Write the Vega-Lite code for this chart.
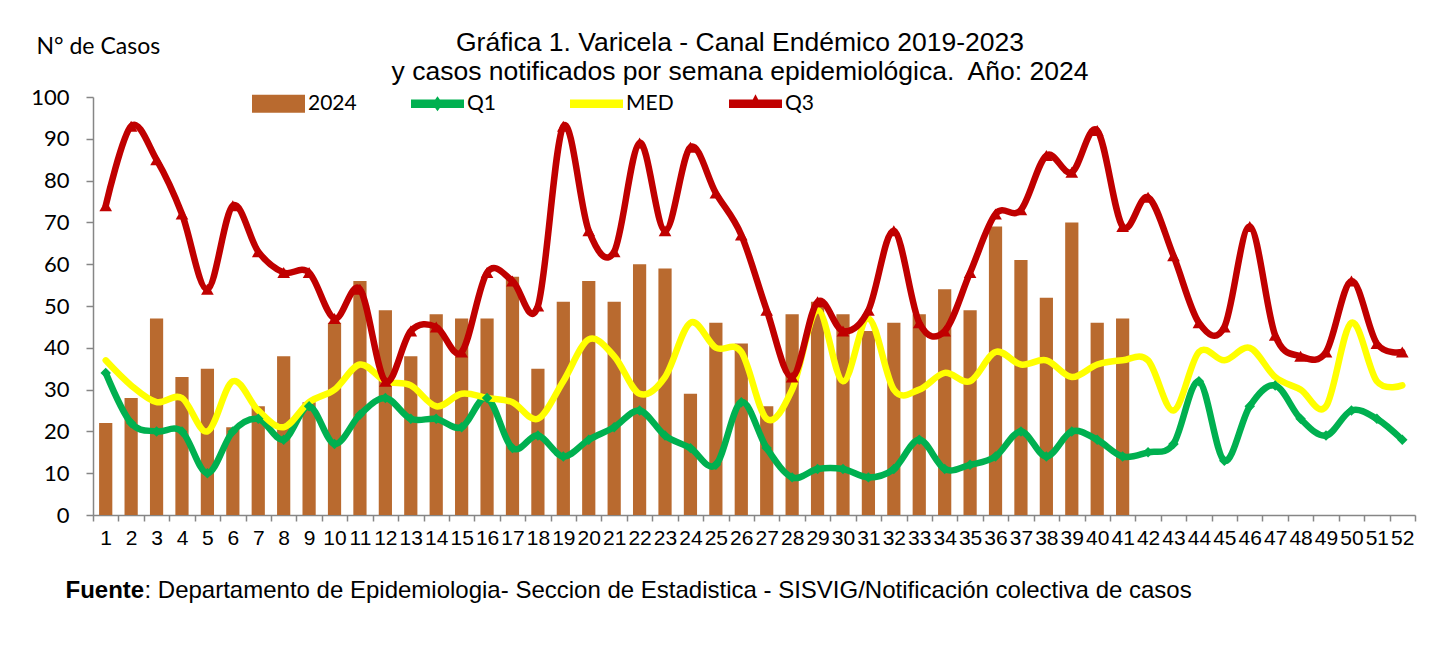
{
"$schema": "https://vega.github.io/schema/vega-lite/v6.json",
"autosize": "none",
"width": 1322,
"height": 418,
"padding": {"left": 93, "top": 97, "right": 27, "bottom": 152},
"background": "white",
"config": {"view": {"stroke": null}, "font": "Liberation Sans", "axis": {"grid": false}},
"title": {"text": ["Gráfica 1. Varicela - Canal Endémico 2019-2023", "y casos notificados por semana epidemiológica.\u00a0 Año: 2024"], "anchor": "middle", "frame": "group", "fontSize": 26.5, "fontWeight": "normal", "font": "Liberation Sans", "color": "black", "lineHeight": 29, "dx": -14, "offset": -50},
"datasets": {"d": [
{"semana":1,"serie":"2024","valor":22},{"semana":2,"serie":"2024","valor":28},{"semana":3,"serie":"2024","valor":47},{"semana":4,"serie":"2024","valor":33},{"semana":5,"serie":"2024","valor":35},{"semana":6,"serie":"2024","valor":21},{"semana":7,"serie":"2024","valor":26},{"semana":8,"serie":"2024","valor":38},{"semana":9,"serie":"2024","valor":27},{"semana":10,"serie":"2024","valor":46},{"semana":11,"serie":"2024","valor":56},{"semana":12,"serie":"2024","valor":49},{"semana":13,"serie":"2024","valor":38},{"semana":14,"serie":"2024","valor":48},{"semana":15,"serie":"2024","valor":47},{"semana":16,"serie":"2024","valor":47},{"semana":17,"serie":"2024","valor":57},{"semana":18,"serie":"2024","valor":35},{"semana":19,"serie":"2024","valor":51},{"semana":20,"serie":"2024","valor":56},{"semana":21,"serie":"2024","valor":51},{"semana":22,"serie":"2024","valor":60},{"semana":23,"serie":"2024","valor":59},{"semana":24,"serie":"2024","valor":29},{"semana":25,"serie":"2024","valor":46},{"semana":26,"serie":"2024","valor":41},{"semana":27,"serie":"2024","valor":26},{"semana":28,"serie":"2024","valor":48},{"semana":29,"serie":"2024","valor":51},{"semana":30,"serie":"2024","valor":48},{"semana":31,"serie":"2024","valor":44},{"semana":32,"serie":"2024","valor":46},{"semana":33,"serie":"2024","valor":48},{"semana":34,"serie":"2024","valor":54},{"semana":35,"serie":"2024","valor":49},{"semana":36,"serie":"2024","valor":69},{"semana":37,"serie":"2024","valor":61},{"semana":38,"serie":"2024","valor":52},{"semana":39,"serie":"2024","valor":70},{"semana":40,"serie":"2024","valor":46},{"semana":41,"serie":"2024","valor":47},
{"semana":1,"serie":"Q1","valor":34},{"semana":2,"serie":"Q1","valor":22},{"semana":3,"serie":"Q1","valor":20},{"semana":4,"serie":"Q1","valor":20},{"semana":5,"serie":"Q1","valor":10},{"semana":6,"serie":"Q1","valor":20},{"semana":7,"serie":"Q1","valor":23},{"semana":8,"serie":"Q1","valor":18},{"semana":9,"serie":"Q1","valor":26},{"semana":10,"serie":"Q1","valor":17},{"semana":11,"serie":"Q1","valor":24},{"semana":12,"serie":"Q1","valor":28},{"semana":13,"serie":"Q1","valor":23},{"semana":14,"serie":"Q1","valor":23},{"semana":15,"serie":"Q1","valor":21},{"semana":16,"serie":"Q1","valor":28},{"semana":17,"serie":"Q1","valor":16},{"semana":18,"serie":"Q1","valor":19},{"semana":19,"serie":"Q1","valor":14},{"semana":20,"serie":"Q1","valor":18},{"semana":21,"serie":"Q1","valor":21},{"semana":22,"serie":"Q1","valor":25},{"semana":23,"serie":"Q1","valor":19},{"semana":24,"serie":"Q1","valor":16},{"semana":25,"serie":"Q1","valor":12},{"semana":26,"serie":"Q1","valor":27},{"semana":27,"serie":"Q1","valor":16},{"semana":28,"serie":"Q1","valor":9},{"semana":29,"serie":"Q1","valor":11},{"semana":30,"serie":"Q1","valor":11},{"semana":31,"serie":"Q1","valor":9},{"semana":32,"serie":"Q1","valor":11},{"semana":33,"serie":"Q1","valor":18},{"semana":34,"serie":"Q1","valor":11},{"semana":35,"serie":"Q1","valor":12},{"semana":36,"serie":"Q1","valor":14},{"semana":37,"serie":"Q1","valor":20},{"semana":38,"serie":"Q1","valor":14},{"semana":39,"serie":"Q1","valor":20},{"semana":40,"serie":"Q1","valor":18},{"semana":41,"serie":"Q1","valor":14},{"semana":42,"serie":"Q1","valor":15},{"semana":43,"serie":"Q1","valor":17},{"semana":44,"serie":"Q1","valor":32},{"semana":45,"serie":"Q1","valor":13},{"semana":46,"serie":"Q1","valor":26},{"semana":47,"serie":"Q1","valor":31},{"semana":48,"serie":"Q1","valor":23},{"semana":49,"serie":"Q1","valor":19},{"semana":50,"serie":"Q1","valor":25},{"semana":51,"serie":"Q1","valor":23},{"semana":52,"serie":"Q1","valor":18},
{"semana":1,"serie":"MED","valor":37},{"semana":2,"serie":"MED","valor":31},{"semana":3,"serie":"MED","valor":27},{"semana":4,"serie":"MED","valor":28},{"semana":5,"serie":"MED","valor":20},{"semana":6,"serie":"MED","valor":32},{"semana":7,"serie":"MED","valor":25},{"semana":8,"serie":"MED","valor":21},{"semana":9,"serie":"MED","valor":27},{"semana":10,"serie":"MED","valor":30},{"semana":11,"serie":"MED","valor":36},{"semana":12,"serie":"MED","valor":32},{"semana":13,"serie":"MED","valor":31},{"semana":14,"serie":"MED","valor":26},{"semana":15,"serie":"MED","valor":29},{"semana":16,"serie":"MED","valor":28},{"semana":17,"serie":"MED","valor":27},{"semana":18,"serie":"MED","valor":23},{"semana":19,"serie":"MED","valor":32},{"semana":20,"serie":"MED","valor":42},{"semana":21,"serie":"MED","valor":38},{"semana":22,"serie":"MED","valor":29},{"semana":23,"serie":"MED","valor":33},{"semana":24,"serie":"MED","valor":46},{"semana":25,"serie":"MED","valor":40},{"semana":26,"serie":"MED","valor":39},{"semana":27,"serie":"MED","valor":23},{"semana":28,"serie":"MED","valor":30},{"semana":29,"serie":"MED","valor":49},{"semana":30,"serie":"MED","valor":32},{"semana":31,"serie":"MED","valor":47},{"semana":32,"serie":"MED","valor":30},{"semana":33,"serie":"MED","valor":30},{"semana":34,"serie":"MED","valor":34},{"semana":35,"serie":"MED","valor":32},{"semana":36,"serie":"MED","valor":39},{"semana":37,"serie":"MED","valor":36},{"semana":38,"serie":"MED","valor":37},{"semana":39,"serie":"MED","valor":33},{"semana":40,"serie":"MED","valor":36},{"semana":41,"serie":"MED","valor":37},{"semana":42,"serie":"MED","valor":37},{"semana":43,"serie":"MED","valor":25},{"semana":44,"serie":"MED","valor":39},{"semana":45,"serie":"MED","valor":37},{"semana":46,"serie":"MED","valor":40},{"semana":47,"serie":"MED","valor":33},{"semana":48,"serie":"MED","valor":30},{"semana":49,"serie":"MED","valor":26},{"semana":50,"serie":"MED","valor":46},{"semana":51,"serie":"MED","valor":32},{"semana":52,"serie":"MED","valor":31},
{"semana":1,"serie":"Q3","valor":74},{"semana":2,"serie":"Q3","valor":93},{"semana":3,"serie":"Q3","valor":85},{"semana":4,"serie":"Q3","valor":72},{"semana":5,"serie":"Q3","valor":54},{"semana":6,"serie":"Q3","valor":74},{"semana":7,"serie":"Q3","valor":63},{"semana":8,"serie":"Q3","valor":58},{"semana":9,"serie":"Q3","valor":58},{"semana":10,"serie":"Q3","valor":47},{"semana":11,"serie":"Q3","valor":54},{"semana":12,"serie":"Q3","valor":32},{"semana":13,"serie":"Q3","valor":44},{"semana":14,"serie":"Q3","valor":45},{"semana":15,"serie":"Q3","valor":39},{"semana":16,"serie":"Q3","valor":58},{"semana":17,"serie":"Q3","valor":56},{"semana":18,"serie":"Q3","valor":50},{"semana":19,"serie":"Q3","valor":93},{"semana":20,"serie":"Q3","valor":68},{"semana":21,"serie":"Q3","valor":63},{"semana":22,"serie":"Q3","valor":89},{"semana":23,"serie":"Q3","valor":68},{"semana":24,"serie":"Q3","valor":88},{"semana":25,"serie":"Q3","valor":77},{"semana":26,"serie":"Q3","valor":67},{"semana":27,"serie":"Q3","valor":49},{"semana":28,"serie":"Q3","valor":33},{"semana":29,"serie":"Q3","valor":51},{"semana":30,"serie":"Q3","valor":44},{"semana":31,"serie":"Q3","valor":49},{"semana":32,"serie":"Q3","valor":68},{"semana":33,"serie":"Q3","valor":46},{"semana":34,"serie":"Q3","valor":44},{"semana":35,"serie":"Q3","valor":58},{"semana":36,"serie":"Q3","valor":72},{"semana":37,"serie":"Q3","valor":73},{"semana":38,"serie":"Q3","valor":86},{"semana":39,"serie":"Q3","valor":82},{"semana":40,"serie":"Q3","valor":92},{"semana":41,"serie":"Q3","valor":69},{"semana":42,"serie":"Q3","valor":76},{"semana":43,"serie":"Q3","valor":62},{"semana":44,"serie":"Q3","valor":46},{"semana":45,"serie":"Q3","valor":45},{"semana":46,"serie":"Q3","valor":69},{"semana":47,"serie":"Q3","valor":43},{"semana":48,"serie":"Q3","valor":38},{"semana":49,"serie":"Q3","valor":39},{"semana":50,"serie":"Q3","valor":56},{"semana":51,"serie":"Q3","valor":41},{"semana":52,"serie":"Q3","valor":39}
]},
"data": {"name": "d"},
"layer": [
{
"encoding": {
"x": {"field": "semana", "type": "ordinal", "sort": null,
"scale": {"domain": [1,2,3,4,5,6,7,8,9,10,11,12,13,14,15,16,17,18,19,20,21,22,23,24,25,26,27,28,29,30,31,32,33,34,35,36,37,38,39,40,41,42,43,44,45,46,47,48,49,50,51,52], "paddingInner": 0, "paddingOuter": 0},
"axis": {"title": "Fuente", "titleFontWeight": "bold", "titleFont": "Liberation Sans", "titleFontSize": 24, "titleColor": "black", "titleX": -28, "titleY": 82, "titleAlign": "left", "titleBaseline": "alphabetic", "titleAnchor": "start", "labelAngle": 0, "labelFont": "Liberation Sans", "labelFontSize": 21, "labelColor": "black", "labelPadding": 6, "labelOverlap": false, "labelBound": false, "tickBand": "extent", "tickSize": 6, "tickColor": "#868686", "tickWidth": 1.5, "domainColor": "#868686", "domainWidth": 1.5}},
"y": {"field": "valor", "type": "quantitative", "scale": {"domain": [0, 100], "nice": false},
"axis": {"title": "N° de Casos", "titleAngle": 0, "titleAlign": "left", "titleBaseline": "alphabetic", "titleAnchor": "start", "titleX": -57, "titleY": -44, "titleFont": "Lato", "titleFontSize": 23, "titleFontWeight": "normal", "titleColor": "black", "values": [0,10,20,30,40,50,60,70,80,90,100], "labelFont": "Lato", "labelFontSize": 22, "labelColor": "black", "labelPadding": 17, "tickSize": 7, "tickColor": "#868686", "tickWidth": 1.5, "domainColor": "#868686", "domainWidth": 1.5, "grid": false}}
},
"layer": [
{"transform": [{"filter": "datum.serie === '2024'"}],
"mark": {"type": "bar", "width": {"band": 0.52}},
"encoding": {"color": {"field": "serie", "type": "nominal",
"scale": {"domain": ["2024", "Q1", "MED", "Q3"], "range": ["#B96A2F", "#00B050", "#FFFF00", "#C00000"]},
"legend": {"orient": "none", "legendX": 159, "legendY": -20, "direction": "horizontal", "columns": 4, "gridAlign": "all", "columnPadding": 54, "title": null, "symbolSize": 2809, "labelFont": "Lato", "labelFontSize": 21, "labelColor": "black", "labelOffset": 3, "padding": 0,
"encode": {"symbols": {"update": {
"shape": {"signal": "datum.value === '2024' ? 'M-1,-0.34H1V0.34H-1Z' : datum.value === 'Q1' ? 'M-1,-0.16H1V0.16H-1Z M0,-0.28L0.2,0L0,0.28L-0.2,0Z' : datum.value === 'MED' ? 'M-1,-0.16H1V0.16H-1Z' : 'M-1,-0.16H1V0.16H-1Z M0,-0.36L0.25,0.12L-0.25,0.12Z'"},
"fill": {"signal": "datum.value === '2024' ? '#B96A2F' : datum.value === 'Q1' ? '#00B050' : datum.value === 'MED' ? '#FFFF00' : '#C00000'"},
"stroke": {"value": "transparent"},
"strokeWidth": {"value": 0},
"opacity": {"value": 1}
}}}}}}},
{"transform": [{"filter": "datum.serie === 'Q1'"}],
"mark": {"type": "line", "interpolate": "cardinal", "strokeWidth": 6.5, "strokeCap": "round", "strokeJoin": "round"},
"encoding": {"color": {"field": "serie", "type": "nominal"}}},
{"transform": [{"filter": "datum.serie === 'MED'"}],
"mark": {"type": "line", "interpolate": "cardinal", "strokeWidth": 6.5, "strokeCap": "round", "strokeJoin": "round"},
"encoding": {"color": {"field": "serie", "type": "nominal"}}},
{"transform": [{"filter": "datum.serie === 'Q3'"}],
"mark": {"type": "line", "interpolate": "cardinal", "strokeWidth": 6.5, "strokeCap": "round", "strokeJoin": "round"},
"encoding": {"color": {"field": "serie", "type": "nominal"}}},
{"transform": [{"filter": "datum.serie === 'Q1'"}],
"mark": {"type": "point", "shape": "diamond", "filled": true, "size": 110, "color": "#00B050", "opacity": 1}}
]
},
{
"transform": [{"filter": "datum.serie === 'Q3'"}],
"mark": {"type": "point", "shape": "triangle-up", "filled": true, "size": 160, "color": "#C00000", "opacity": 1},
"encoding": {
"x": {"field": "semana", "type": "ordinal", "sort": null},
"y": {"field": "valor", "type": "quantitative", "scale": {"domain": [0, 100], "nice": false},
"axis": {"orient": "right", "title": ": Departamento de Epidemiologia- Seccion de Estadistica - SISVIG/Notificación colectiva de casos", "labels": false, "ticks": false, "domain": false, "grid": false, "titleAngle": 0, "titleAlign": "left", "titleBaseline": "alphabetic", "titleAnchor": "start", "titleX": -1271, "titleY": 500, "titleFont": "Liberation Sans", "titleFontSize": 24, "titleFontWeight": "normal", "titleColor": "black"}}
}
}
],
"resolve": {"scale": {"y": "independent"}, "axis": {"y": "independent"}}
}
